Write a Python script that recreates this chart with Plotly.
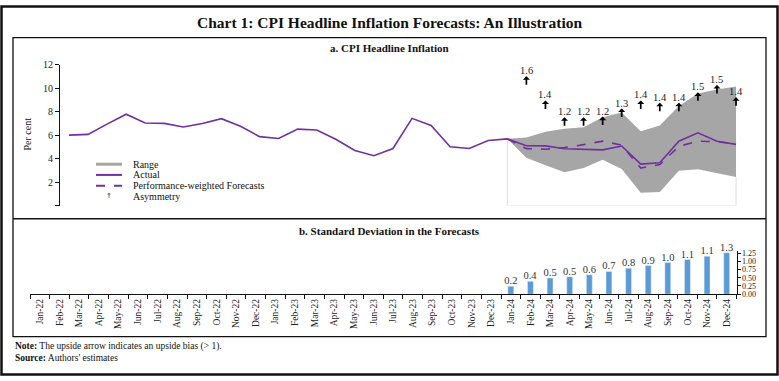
import plotly.graph_objects as go

# ---------------- data ----------------
months = ["Jan-22", "Feb-22", "Mar-22", "Apr-22", "May-22", "Jun-22", "Jul-22", "Aug-22",
          "Sep-22", "Oct-22", "Nov-22", "Dec-22", "Jan-23", "Feb-23", "Mar-23", "Apr-23",
          "May-23", "Jun-23", "Jul-23", "Aug-23", "Sep-23", "Oct-23", "Nov-23", "Dec-23",
          "Jan-24", "Feb-24", "Mar-24", "Apr-24", "May-24", "Jun-24", "Jul-24", "Aug-24",
          "Sep-24", "Oct-24", "Nov-24", "Dec-24"]

actual = [6.01, 6.07, 6.95, 7.79, 7.04, 7.01, 6.71, 7.00, 7.41, 6.77, 5.88, 5.72,
          6.52, 6.44, 5.66, 4.70, 4.25, 4.87, 7.44, 6.83, 5.02, 4.87, 5.55, 5.69,
          5.10, 5.09, 4.85, 4.83, 4.75, 5.08, 3.54, 3.65, 5.49, 6.21, 5.48, 5.22]

fc_months = ["Dec-23", "Jan-24", "Feb-24", "Mar-24", "Apr-24", "May-24", "Jun-24",
             "Jul-24", "Aug-24", "Sep-24", "Oct-24", "Nov-24", "Dec-24"]
forecast = [5.69, 4.86, 4.80, 4.95, 5.20, 5.50, 5.15, 3.20, 3.50, 5.05, 5.50, 5.45, 5.25]
range_upper = [5.69, 5.80, 6.30, 6.56, 6.68, 7.53, 7.95, 6.35, 6.84, 8.50, 9.55, 9.90, 10.15]
range_lower = [5.69, 4.08, 3.45, 2.84, 3.20, 3.90, 3.12, 1.10, 1.15, 2.98, 3.09, 2.76, 2.43]

asym_months = fc_months[1:]
asym_values = [1.6, 1.4, 1.2, 1.2, 1.2, 1.3, 1.4, 1.4, 1.4, 1.5, 1.5, 1.4]
asym_level = [11.04, 8.97, 7.53, 7.53, 7.59, 8.28, 8.97, 8.77, 8.77, 9.66, 10.29, 9.25]

sd_months = fc_months[1:]
sd_values = [0.24, 0.39, 0.49, 0.53, 0.59, 0.69, 0.79, 0.87, 0.96, 1.05, 1.15, 1.26]

y_ticks_a = [0, 2, 4, 6, 8, 10, 12]
y_ticks_b = [0.00, 0.25, 0.50, 0.75, 1.00, 1.25]

# ---------------- layout helpers ----------------
W, H = 779, 381
FONT = "Liberation Serif"
PURPLE = "#7030a0"
GREY = "#a6a6a6"


def px(x):
    return x / W


def py(y):
    return 1 - y / H


fig = go.Figure()

# light outline of the forecast window
fig.add_trace(go.Scatter(
    x=[fc_months[0], fc_months[0], fc_months[-1], fc_months[-1]],
    y=[range_upper[0], 0, 0, range_lower[-1]],
    mode="lines", line=dict(color="#dedede", width=1),
    showlegend=False, hoverinfo="skip", xaxis="x", yaxis="y"))

# range band
fig.add_trace(go.Scatter(x=fc_months, y=range_lower, mode="lines",
                         line=dict(width=0, color=GREY), showlegend=False,
                         xaxis="x", yaxis="y"))
fig.add_trace(go.Scatter(x=fc_months, y=range_upper, mode="lines", fill="tonexty",
                         fillcolor=GREY, line=dict(width=0, color=GREY),
                         name="Range", showlegend=False, xaxis="x", yaxis="y"))

# actual
fig.add_trace(go.Scatter(x=months, y=actual, mode="lines",
                         line=dict(color=PURPLE, width=1.6), name="Actual",
                         showlegend=False, xaxis="x", yaxis="y"))
# forecast
fig.add_trace(go.Scatter(x=fc_months, y=forecast, mode="lines",
                         line=dict(color=PURPLE, width=1.6, dash="dash"),
                         name="Performance-weighted Forecasts", showlegend=False,
                         xaxis="x", yaxis="y"))

# bars
fig.add_trace(go.Bar(x=sd_months, y=sd_values, marker=dict(color="#5b9bd5"),
                     width=0.3, texttemplate="%{y:.1f}", textposition="outside",
                     constraintext="none",
                     textfont=dict(family=FONT, size=10.5, color="#333333"),
                     cliponaxis=False, showlegend=False, xaxis="x2", yaxis="y2"))

annotations = []
# asymmetry arrows and labels
for m, v, lv in zip(asym_months, asym_values, asym_level):
    annotations.append(dict(x=m, y=lv, xref="x", yref="y", text="", showarrow=True,
                            ax=0, ay=10, axref="pixel", ayref="pixel",
                            arrowhead=1, arrowsize=0.7, arrowwidth=1.7,
                            arrowcolor="#000000"))
    annotations.append(dict(x=m, y=lv, xref="x", yref="y", text=f"{v:.1f}",
                            showarrow=False, yanchor="bottom", xanchor="center", yshift=-2,
                            font=dict(family=FONT, size=10.5, color="#222222")))


def ptext(x, y, text, size, xanchor="center", **kw):
    return dict(x=px(x), y=py(y), xref="paper", yref="paper", text=text,
                showarrow=False, xanchor=xanchor, yanchor="middle",
                font=dict(family=FONT, size=size, color="#111111"), **kw)


# titles
annotations.append(ptext(389.5, 18, "<b>Chart 1: CPI Headline Inflation Forecasts: An Illustration</b>", 15.5))
annotations.append(ptext(389.5, 44, "<b>a. CPI Headline Inflation</b>", 11))
annotations.append(ptext(389.5, 232, "<b>b. Standard Deviation in the Forecasts</b>", 11))
# notes
annotations.append(ptext(13, 351, "<b>Note:</b> The upside arrow indicates an upside bias (> 1).", 9.5, xanchor="left"))
annotations.append(ptext(13, 363, "<b>Source:</b> Authors' estimates", 9.5, xanchor="left"))
# y-axis title
annotations.append(ptext(28, 133, "Per cent", 10, textangle=-90))

# manual legend
legend_rows = [("Range", 163.5), ("Actual", 174.5), ("Performance-weighted Forecasts", 185.5),
               ("Asymmetry", 196.5)]
shapes = []
for label, yy in legend_rows:
    annotations.append(ptext(131, yy, label, 10, xanchor="left"))
shapes.append(dict(type="line", xref="paper", yref="paper", x0=px(96), x1=px(122),
                   y0=py(163.5), y1=py(163.5), line=dict(color=GREY, width=3)))
shapes.append(dict(type="line", xref="paper", yref="paper", x0=px(96), x1=px(122),
                   y0=py(174.5), y1=py(174.5), line=dict(color=PURPLE, width=2)))
shapes.append(dict(type="line", xref="paper", yref="paper", x0=px(96), x1=px(122),
                   y0=py(185.5), y1=py(185.5), line=dict(color=PURPLE, width=2, dash="dash")))
annotations.append(dict(x=px(109), y=py(196.5), xref="paper", yref="paper",
                        text="↑", showarrow=False, xanchor="center", yanchor="middle",
                        font=dict(family="DejaVu Sans", size=7, color="#222222")))

# frames
shapes.append(dict(type="rect", xref="paper", yref="paper", x0=px(1.5), x1=px(777.5),
                   y0=py(379.5), y1=py(1.5), line=dict(color="#111111", width=2.5)))
shapes.append(dict(type="rect", xref="paper", yref="paper", x0=px(13), x1=px(766),
                   y0=py(340.5), y1=py(33.5), line=dict(color="#111111", width=1.3)))
shapes.append(dict(type="line", xref="paper", yref="paper", x0=px(13), x1=px(766),
                   y0=py(219.5), y1=py(219.5), line=dict(color="#111111", width=1.3)))

axis_font = dict(family=FONT, size=10, color="#222222")

fig.update_layout(
    width=W, height=H, margin=dict(l=0, r=0, t=0, b=0),
    paper_bgcolor="white", plot_bgcolor="white",
    showlegend=False, bargap=0.7,
    annotations=annotations, shapes=shapes,
    xaxis=dict(domain=[px(60), px(745)], type="category", categoryorder="array",
               categoryarray=months, range=[-0.47, 35.47], showticklabels=False,
               showline=False, showgrid=False, zeroline=False, ticks="",
               anchor="y"),
    yaxis=dict(domain=[py(206), py(61.5)], range=[0, 12], tickvals=y_ticks_a,
               ticktext=["" if t == 0 else str(t) for t in y_ticks_a],
               showline=True, linecolor="#111111", linewidth=1, ticks="outside",
               ticklen=4, tickcolor="#111111", showgrid=False, zeroline=False,
               tickfont=axis_font, anchor="x"),
    xaxis2=dict(domain=[px(30), px(736.5)], type="category", categoryorder="array",
                categoryarray=months, range=[-0.5, 35.5], tickangle=-90,
                tickson="boundaries", ticks="outside", ticklen=4, tickcolor="#111111",
                showline=True, linecolor="#111111", linewidth=1, showgrid=False,
                zeroline=False, tickfont=dict(family=FONT, size=9.5, color="#222222"),
                anchor="y2"),
    yaxis2=dict(domain=[py(297), py(253)], range=[0, 1.3], tickvals=y_ticks_b,
                tickformat=".2f", side="right", showline=True, linecolor="#111111",
                linewidth=1, ticks="outside", ticklen=3, tickcolor="#111111",
                showgrid=False, zeroline=False,
                tickfont=dict(family=FONT, size=8, color="#222222"), anchor="x2"),
)

fig.write_html("out.html", config={"displayModeBar": False},
               post_script="document.body.style.margin='0';document.body.style.overflow='hidden';")
